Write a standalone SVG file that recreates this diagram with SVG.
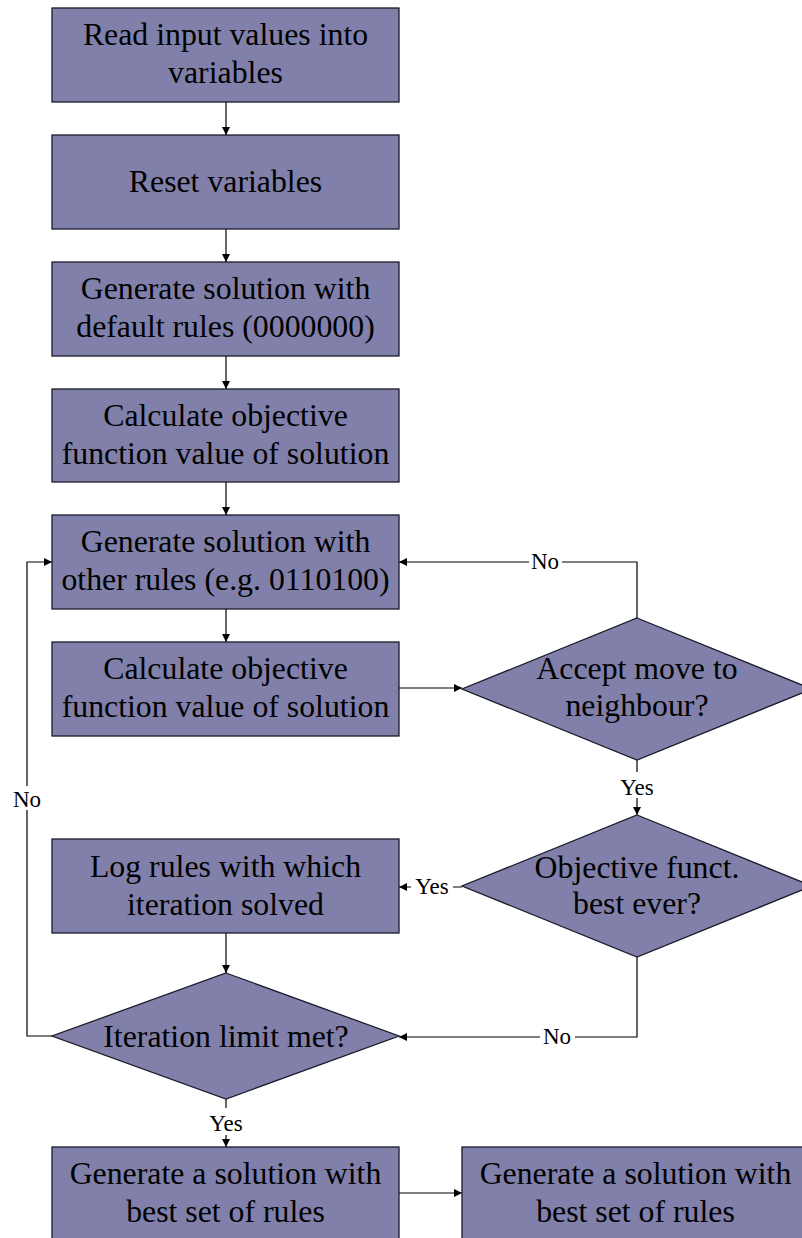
<svg xmlns="http://www.w3.org/2000/svg" width="802" height="1238" viewBox="0 0 802 1238">
  <defs>
    <marker id="arrow" viewBox="0 0 10 10" refX="10" refY="5" markerWidth="9" markerHeight="8" markerUnits="userSpaceOnUse" orient="auto">
      <path d="M0,0 L10,5 L0,10 z" fill="#000"/>
    </marker>
  </defs>
  <style>
    .box { fill: #8080aa; stroke: #1a1a2a; stroke-width: 1.3; }
    .txt { font-family: "Liberation Serif", "Times New Roman", serif; font-size: 31.8px; fill: #000; text-anchor: middle; }
    .lbl { font-family: "Liberation Serif", "Times New Roman", serif; font-size: 23px; fill: #000; text-anchor: middle; }
    .lblbg { fill: #fff; }
    .con { fill: none; stroke: #000; stroke-width: 1.2; }
    .arr { marker-end: url(#arrow); }
  </style>
  <rect width="802" height="1238" fill="#fff"/>

  <!-- connectors -->
  <g id="connectors">
    <path class="con arr" d="M226,102 V135"/>
    <path class="con arr" d="M226,229 V262"/>
    <path class="con arr" d="M226,356 V389"/>
    <path class="con arr" d="M226,482 V515"/>
    <path class="con arr" d="M226,609 V642"/>
    <path class="con arr" d="M399,688 H462"/>
    <path class="con arr" d="M637,618 V562 H399"/>
    <path class="con arr" d="M637,760 V815"/>
    <path class="con arr" d="M462,887 H399"/>
    <path class="con arr" d="M637,957 V1037 H399"/>
    <path class="con arr" d="M226,933 V973"/>
    <path class="con arr" d="M52,1036 H27 V562 H52"/>
    <path class="con arr" d="M226,1099 V1147"/>
    <path class="con arr" d="M399,1193 H462"/>

    <rect class="lblbg" x="529" y="550" width="33" height="22"/>
    <text class="lbl" x="545" y="569">No</text>
    <rect class="lblbg" x="617" y="772" width="40" height="26"/>
    <text class="lbl" x="637" y="795">Yes</text>
    <rect class="lblbg" x="411" y="876" width="42" height="22"/>
    <text class="lbl" x="432" y="894">Yes</text>
    <rect class="lblbg" x="540" y="1026" width="35" height="22"/>
    <text class="lbl" x="557" y="1044">No</text>
    <rect class="lblbg" x="11" y="786" width="34" height="24"/>
    <text class="lbl" x="27" y="807">No</text>
    <rect class="lblbg" x="205" y="1108" width="42" height="27"/>
    <text class="lbl" x="226" y="1131">Yes</text>
  </g>

  <g id="read-input">
    <rect class="box" x="52" y="8" width="347" height="94"/>
    <text class="txt" x="225.5" y="45">Read input values into</text>
    <text class="txt" x="225.5" y="83">variables</text>
  </g>
  <g id="reset-variables">
    <rect class="box" x="52" y="135" width="347" height="94"/>
    <text class="txt" x="225.5" y="192">Reset variables</text>
  </g>
  <g id="default-solution">
    <rect class="box" x="52" y="262" width="347" height="94"/>
    <text class="txt" x="225.5" y="299">Generate solution with</text>
    <text class="txt" x="225.5" y="337">default rules (0000000)</text>
  </g>
  <g id="objective-initial">
    <rect class="box" x="52" y="389" width="347" height="93"/>
    <text class="txt" x="225.5" y="426">Calculate objective</text>
    <text class="txt" x="225.5" y="464">function value of solution</text>
  </g>
  <g id="other-solution">
    <rect class="box" x="52" y="515" width="347" height="94"/>
    <text class="txt" x="225.5" y="552">Generate solution with</text>
    <text class="txt" x="225.5" y="590">other rules (e.g. 0110100)</text>
  </g>
  <g id="objective-neighbour">
    <rect class="box" x="52" y="642" width="347" height="94"/>
    <text class="txt" x="225.5" y="679">Calculate objective</text>
    <text class="txt" x="225.5" y="717">function value of solution</text>
  </g>
  <g id="accept-move">
    <polygon class="box" points="637,618 812,689 637,760 462,689"/>
    <text class="txt" x="637" y="679">Accept move to</text>
    <text class="txt" x="637" y="716">neighbour?</text>
  </g>
  <g id="best-ever">
    <polygon class="box" points="637,815 812,886 637,957 462,886"/>
    <text class="txt" x="637" y="878">Objective funct.</text>
    <text class="txt" x="637" y="914">best ever?</text>
  </g>
  <g id="log-rules">
    <rect class="box" x="52" y="839" width="347" height="94"/>
    <text class="txt" x="225.5" y="877">Log rules with which</text>
    <text class="txt" x="225.5" y="915">iteration solved</text>
  </g>
  <g id="iteration-limit">
    <polygon class="box" points="226,973 399,1036 226,1099 52,1036"/>
    <text class="txt" x="226" y="1047">Iteration limit met?</text>
  </g>
  <g id="best-solution-a">
    <rect class="box" x="52" y="1147" width="347" height="94"/>
    <text class="txt" x="225.5" y="1184">Generate a solution with</text>
    <text class="txt" x="225.5" y="1222">best set of rules</text>
  </g>
  <g id="best-solution-b">
    <rect class="box" x="462" y="1147" width="347" height="94"/>
    <text class="txt" x="635.5" y="1184">Generate a solution with</text>
    <text class="txt" x="635.5" y="1222">best set of rules</text>
  </g>
</svg>
